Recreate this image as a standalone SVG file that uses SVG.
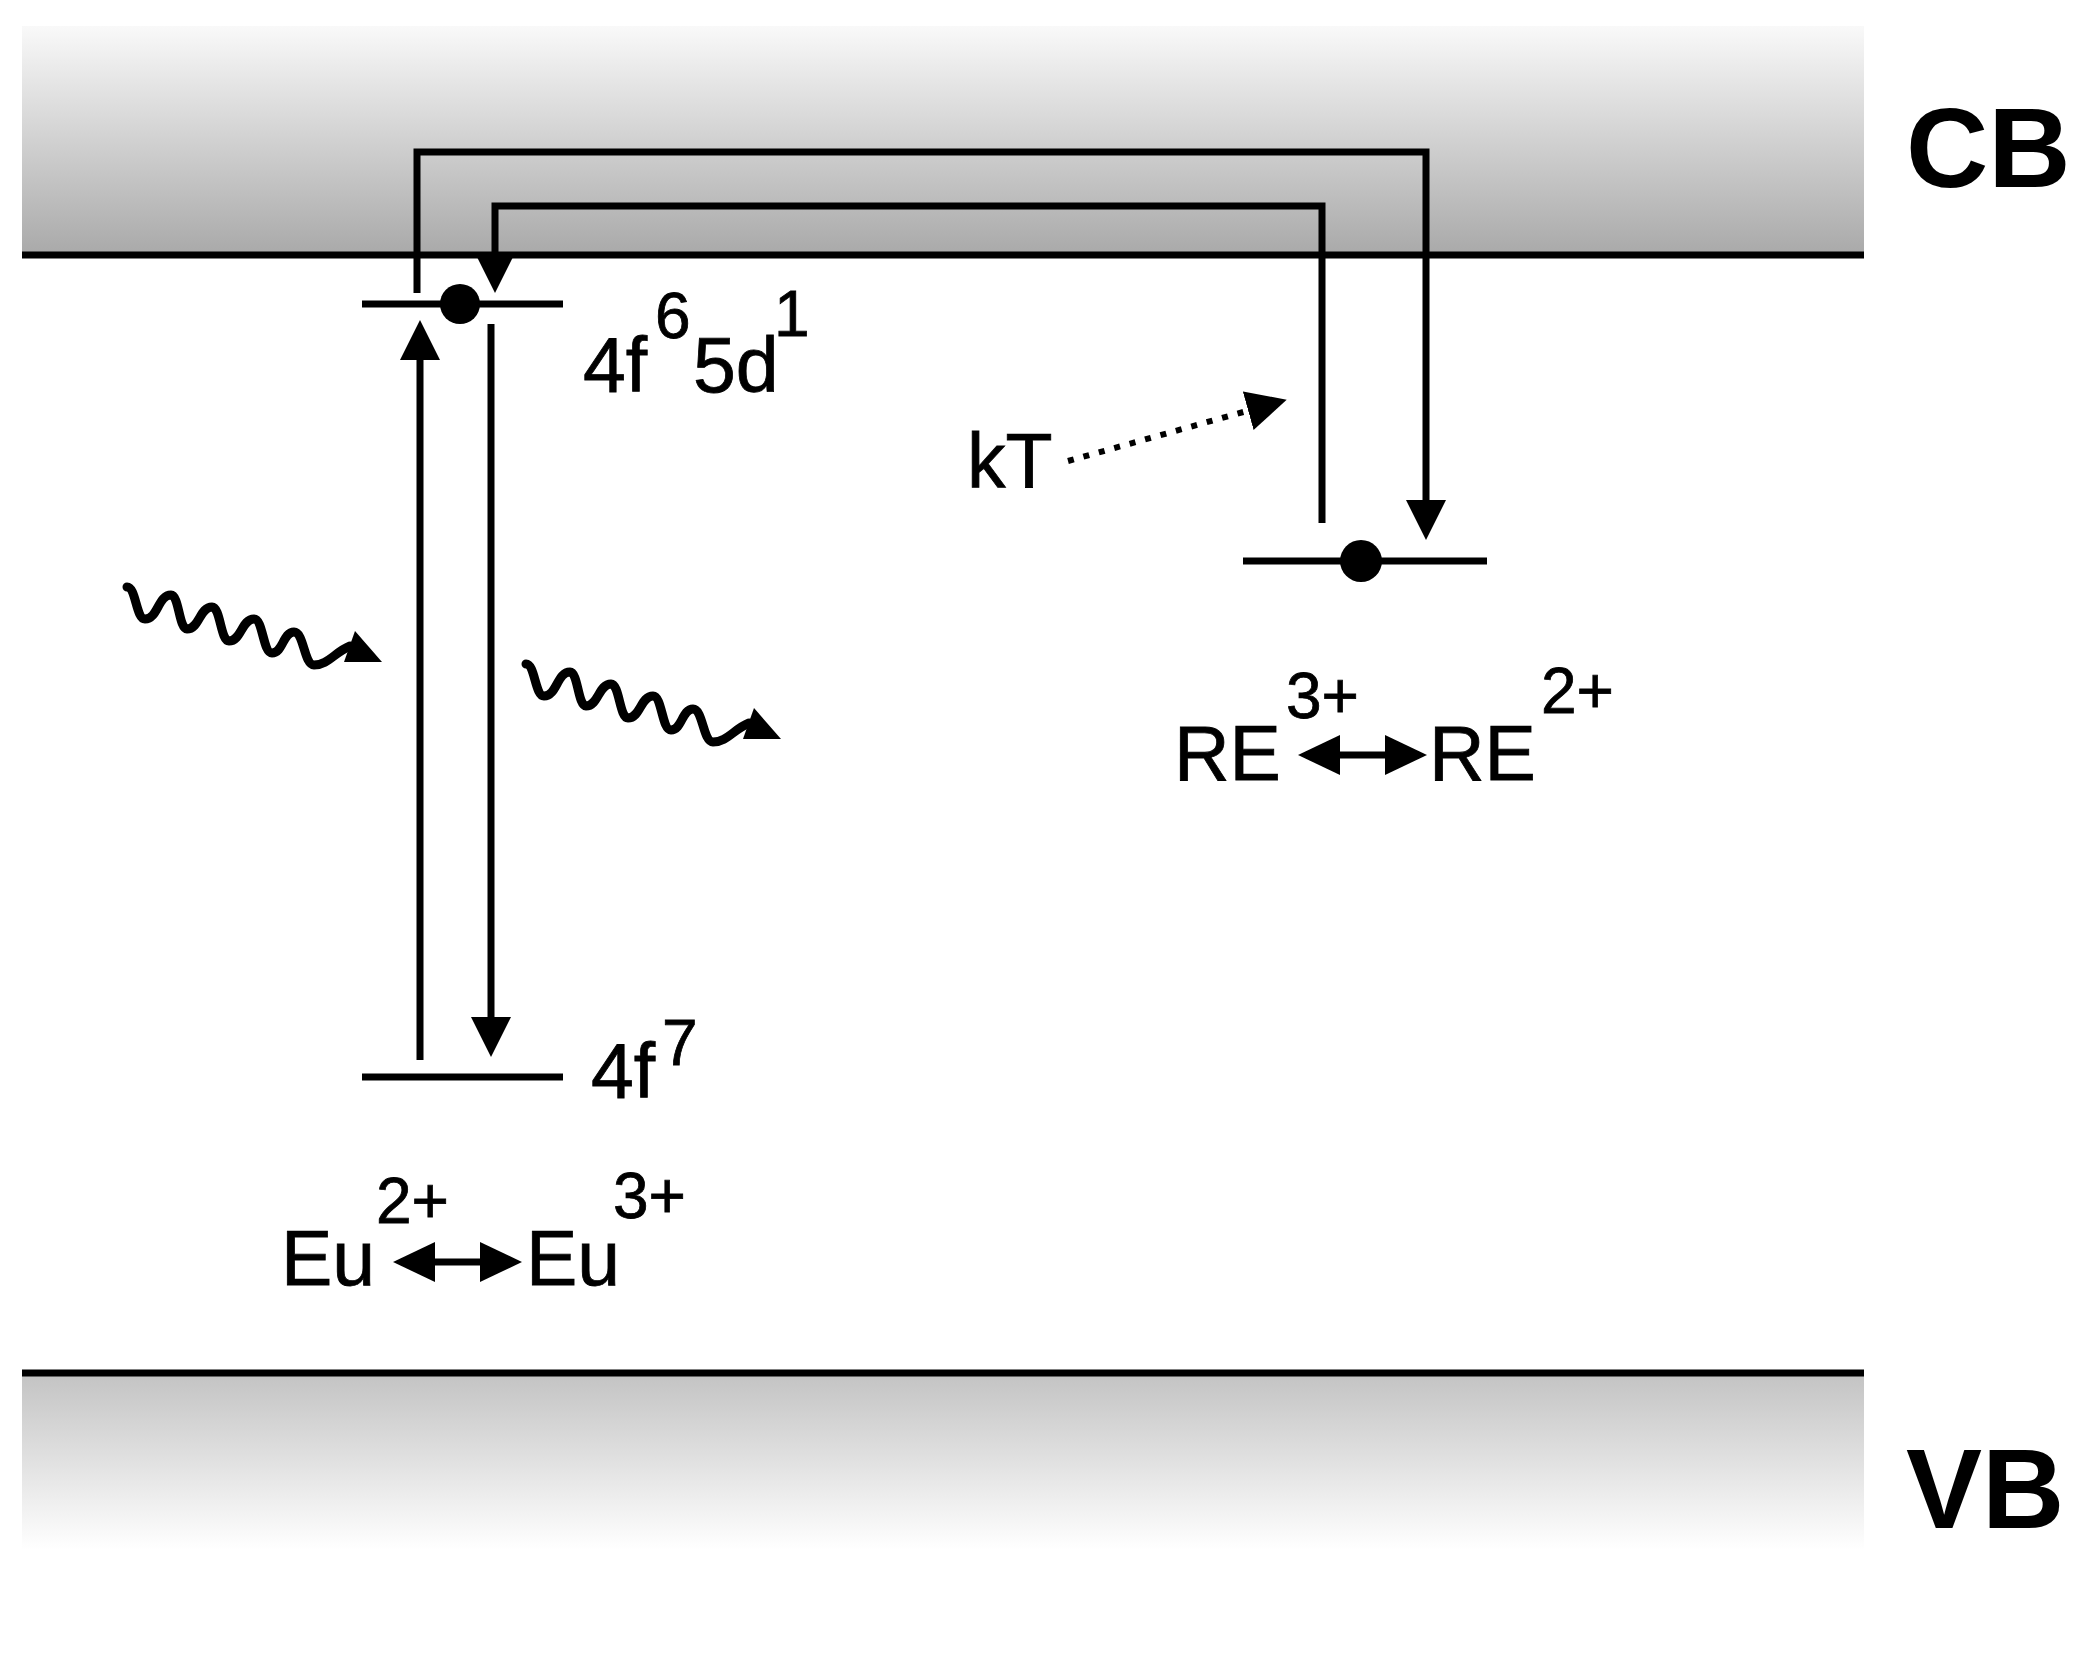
<svg xmlns="http://www.w3.org/2000/svg" width="2095" height="1673" viewBox="0 0 2095 1673">
<defs>
<linearGradient id="gCB" x1="0" y1="0" x2="0" y2="1">
<stop offset="0" stop-color="#f9f9f9"/>
<stop offset="1" stop-color="#a9a9a9"/>
</linearGradient>
<linearGradient id="gVB" x1="0" y1="0" x2="0" y2="1">
<stop offset="0" stop-color="#c3c3c3"/>
<stop offset="1" stop-color="#ffffff"/>
</linearGradient>
<marker id="arr" markerUnits="userSpaceOnUse" viewBox="0 0 40 40" markerWidth="40" markerHeight="40" refX="32" refY="20" orient="auto">
<path d="M0,0 L40,20 L0,40 Z" fill="#000"/>
</marker>
<marker id="arrS" markerUnits="userSpaceOnUse" viewBox="0 0 42 40" markerWidth="42" markerHeight="40" refX="34" refY="20" orient="auto-start-reverse">
<path d="M0,0 L42,20 L0,40 Z" fill="#000"/>
</marker>
<g id="wave">
<path class="wv" d="M127,587 C136,587 136,619 145,619 C158,619 158,595 171,595 C179,595 179,629 187,629 C199.5,629 199.5,607 212,607 C220.5,607 220.5,641 229,641 C241.5,641 241.5,619 254,619 C263,619 263,653 272,653 C283,653 283,632 294,632 C304,632 304,665 314,665 C328,665 335,652 350,646"/>
<polygon points="355,631 382,662 344,662" fill="#000"/>
</g>
</defs>
<style>
.ln{stroke:#000;stroke-width:7;fill:none;stroke-linejoin:miter}
.wv{stroke:#000;stroke-width:9;fill:none;stroke-linejoin:round;stroke-linecap:round}
.t{font-family:"Liberation Sans",Arial,sans-serif;fill:#000;stroke:#000;stroke-width:0.8}
.big{font-size:77px}
.sup{font-size:64px}
.bold{font-family:"Liberation Sans",Arial,sans-serif;font-weight:bold;font-size:114px;fill:#000}
</style>
<rect width="2095" height="1673" fill="#fff"/>

<g id="cb-band">
<rect x="22" y="26" width="1842" height="229" fill="url(#gCB)"/>
<line class="ln" x1="22" y1="255" x2="1864" y2="255"/>
<text class="bold" x="1906" y="187">CB</text>
</g>

<g id="vb-band">
<rect x="22" y="1373" width="1842" height="177" fill="url(#gVB)"/>
<line class="ln" x1="22" y1="1373" x2="1864" y2="1373"/>
<text class="bold" x="1906" y="1528">VB</text>
</g>

<g id="level-4f65d1">
<line class="ln" x1="362" y1="304" x2="563" y2="304"/>
<circle cx="460" cy="304" r="20" fill="#000"/>
<text class="t big" x="583" y="392">4f</text>
<text class="t sup" x="655" y="338">6</text>
<text class="t big" x="693" y="392">5d</text>
<text class="t sup" x="774" y="336">1</text>
</g>

<g id="level-4f7">
<line class="ln" x1="362" y1="1077" x2="563" y2="1077"/>
<text class="t big" x="591" y="1098">4f</text>
<text class="t sup" x="662" y="1065">7</text>
</g>

<g id="level-trap">
<line class="ln" x1="1243" y1="561" x2="1487" y2="561"/>
<circle cx="1361" cy="561" r="21" fill="#000"/>
</g>

<g id="label-eu">
<text class="t big" x="281" y="1285">Eu</text>
<text class="t sup" x="376" y="1223">2+</text>
<text class="t big" x="526" y="1285">Eu</text>
<text class="t sup" x="613" y="1218">3+</text>
</g>

<g id="label-re">
<text class="t big" x="1174" y="780">RE</text>
<text class="t sup" x="1286" y="718">3+</text>
<text class="t big" x="1429" y="780">RE</text>
<text class="t sup" x="1541" y="713">2+</text>
</g>

<g id="label-kT">
<text class="t big" x="967" y="488">kT</text>
</g>

<g id="photons">
<use href="#wave"/>
<use href="#wave" transform="translate(399,77)"/>
</g>

<g id="connectors">
<path class="ln" d="M420,1060 V328" marker-end="url(#arr)"/>
<path class="ln" d="M491,324 V1049" marker-end="url(#arr)"/>
<path class="ln" d="M417,293 V152 H1426 V532" marker-end="url(#arr)"/>
<path class="ln" d="M1322,523 V206 H495 V285" marker-end="url(#arr)"/>
<path d="M1068,461 L1279,402" stroke="#000" stroke-width="6" stroke-dasharray="6 10" fill="none" marker-end="url(#arr)"/>
<path class="ln" d="M401,1262 H514" marker-start="url(#arrS)" marker-end="url(#arrS)"/>
<path class="ln" d="M1306,755 H1419" marker-start="url(#arrS)" marker-end="url(#arrS)"/>
</g>
</svg>
